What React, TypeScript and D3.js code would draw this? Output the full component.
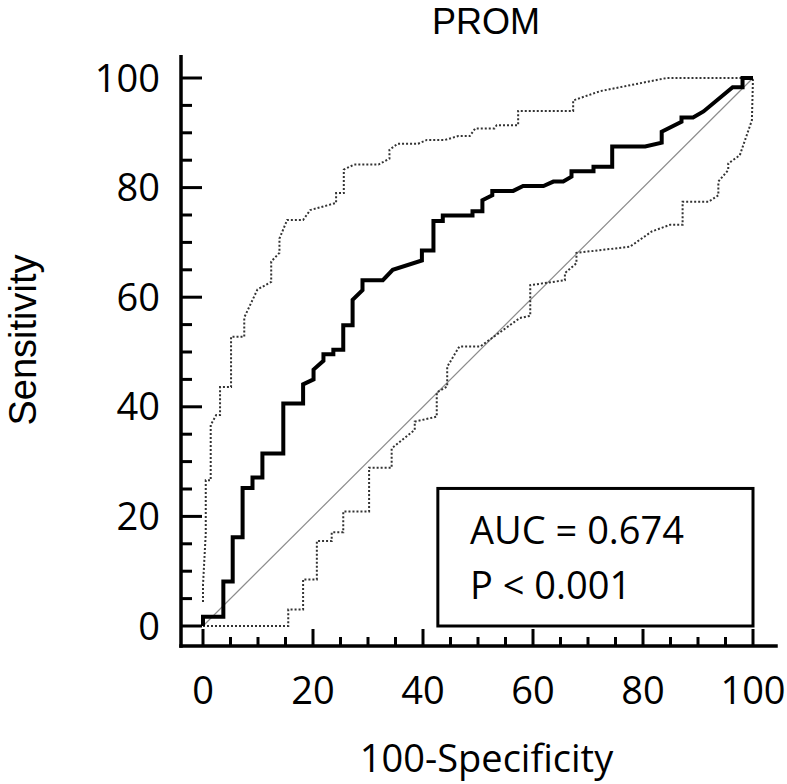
import React from "react";
import * as d3 from "d3";

// ROC curve vertices (100-Specificity, Sensitivity)
const rocX = [0, 0, 3.7, 3.7, 5.4, 5.4, 7.2, 7.2, 9.0, 9.0, 10.8, 10.8, 14.6, 14.6, 18.2, 18.2, 20.1, 20.1, 21.9, 21.9, 23.7, 23.7, 25.5, 25.5, 27.2, 27.2, 29.0, 29.0, 32.7, 34.5, 39.8, 39.8, 41.9, 41.9, 43.6, 43.6, 49.0, 49.0, 50.8, 50.8, 52.6, 52.6, 56.4, 58.2, 61.9, 63.7, 65.5, 67.0, 67.0, 71.0, 71.0, 74.4, 74.4, 80.4, 83.4, 83.4, 87.0, 87.0, 89.1, 91.0, 96.3, 98.1, 98.1, 100];
const rocY = [0, 1.7, 1.7, 8.1, 8.1, 16.2, 16.2, 25.2, 25.2, 27.1, 27.1, 31.5, 31.5, 40.6, 40.6, 44.1, 45.0, 46.8, 48.4, 49.6, 49.6, 50.4, 50.4, 54.9, 54.9, 59.5, 61.3, 63.1, 63.1, 65.0, 66.7, 68.5, 68.5, 73.9, 73.9, 74.9, 74.9, 75.7, 75.7, 77.7, 78.6, 79.4, 79.4, 80.3, 80.3, 81.1, 81.1, 82.0, 83.0, 83.0, 83.8, 83.8, 87.5, 87.5, 88.2, 90.2, 92.0, 92.8, 92.8, 93.9, 98.3, 98.3, 100, 100];

// Upper 95% confidence bound
const upperX = [0, 0, 0.5, 0.5, 1.4, 1.4, 2.4, 3.1, 3.1, 5.1, 5.1, 7.5, 7.5, 9.9, 12.4, 12.4, 13.9, 13.9, 15.3, 18.2, 19.5, 24.2, 24.2, 25.6, 25.6, 27.5, 31.9, 33.9, 33.9, 35.4, 39.1, 40.7, 44.0, 46.4, 48.5, 49.5, 53.0, 53.4, 57.3, 57.3, 67.3, 67.3, 72.2, 84.3, 100];
const upperY = [4.4, 7.5, 16.9, 26.6, 26.6, 36.7, 38.5, 38.5, 43.6, 43.6, 52.8, 52.8, 56.3, 61.4, 62.8, 66.5, 68.1, 70.7, 74.1, 74.1, 75.9, 77.2, 79.0, 79.0, 83.3, 84.2, 84.2, 85.3, 86.9, 88.0, 88.0, 88.7, 88.7, 89.4, 89.4, 90.8, 90.8, 91.4, 91.4, 94.0, 94.0, 95.9, 97.6, 100, 100];

// Lower 95% confidence bound
const lowerX = [0, 15.5, 15.5, 18.2, 18.2, 20.7, 20.7, 23.4, 23.4, 25.5, 25.5, 30.2, 30.2, 34.3, 34.3, 38.5, 38.5, 42.5, 42.5, 44.4, 44.4, 46.6, 50.4, 57.6, 59.5, 59.5, 65.8, 65.8, 67.9, 67.9, 77.6, 81.6, 84.9, 87.2, 87.2, 91.9, 93.7, 93.7, 95.5, 95.5, 97.6, 99.8, 100];
const lowerY = [0, 0, 3.0, 3.0, 8.5, 8.5, 15.5, 15.5, 17.1, 17.1, 20.9, 20.9, 28.9, 28.9, 32.4, 35.8, 37.3, 38.2, 42.6, 43.7, 47.3, 51.0, 51.0, 56.2, 56.6, 62.2, 63.1, 64.4, 66.2, 68.1, 69.2, 72.0, 73.2, 73.2, 77.4, 77.4, 78.6, 81.1, 83.2, 84.4, 85.9, 92.3, 100];

const tickValues = [0, 20, 40, 60, 80, 100];
const title = "PROM";
const xLabel = "100-Specificity";
const yLabel = "Sensitivity";
const aucText = "AUC = 0.674";
const pText = "P < 0.001";

const FONT = "'Open Sans', 'Noto Sans', sans-serif";
const EDGE_FONT = "'Liberation Sans', Arial, sans-serif";

export default function App() {
  const x = d3.scaleLinear().domain([0, 100]).range([203, 753]);
  const y = d3.scaleLinear().domain([0, 100]).range([626, 78]);
  const minor = d3.range(0, 101, 5);

  const line = d3
    .line<[number, number]>()
    .x((d) => x(d[0]))
    .y((d) => y(d[1]));

  const zip = (a: number[], b: number[]) => a.map((v, i) => [v, b[i]] as [number, number]);

  const axisLeftX = x(-4);
  const axisBottomY = y(-3.65);

  return (
    <svg
      width={787}
      height={784}
      style={{ position: "absolute", left: 0, top: 0, background: "#fff" }}
      fontFamily={FONT}
    >
      <rect x={0} y={0} width={787} height={784} fill="#fff" />
      {/* diagonal */}
      <path d={line([[0, 0], [100, 100]])!} stroke="#8c8c8c" strokeWidth={1.2} fill="none" />
      {/* CI bounds */}
      <path d={line(zip(upperX, upperY))!} stroke="#333" strokeWidth={2} strokeDasharray="2 2" fill="none" />
      <path d={line(zip(lowerX, lowerY))!} stroke="#333" strokeWidth={2} strokeDasharray="2 2" fill="none" />
      {/* ROC */}
      <path d={line(zip(rocX, rocY))!} stroke="#000" strokeWidth={4} fill="none" strokeLinejoin="miter" />

      {/* axes */}
      <line x1={axisLeftX} x2={axisLeftX} y1={y(104.2)} y2={axisBottomY + 1.75} stroke="#000" strokeWidth={3.5} />
      <line x1={axisLeftX - 1.75} x2={x(104.5)} y1={axisBottomY} y2={axisBottomY} stroke="#000" strokeWidth={3.5} />
      {minor.map((v) => {
        const major = v % 20 === 0;
        return (
          <g key={"t" + v}>
            <line x1={axisLeftX} x2={axisLeftX + (major ? 21 : 11)} y1={y(v)} y2={y(v)} stroke="#000" strokeWidth={3} />
            <line x1={x(v)} x2={x(v)} y1={axisBottomY} y2={axisBottomY - (major ? 17 : 9)} stroke="#000" strokeWidth={3} />
          </g>
        );
      })}
      {tickValues.map((v) => (
        <g key={"l" + v}>
          <text x={160} y={y(v) + 13.5} textAnchor="end" fontSize={38} fill="#000">
            {v}
          </text>
          <text x={x(v)} y={703.5} textAnchor="middle" fontSize={38} fill="#000">
            {v}
          </text>
        </g>
      ))}

      {/* legend box */}
      <rect x={x(42.7)} y={y(25.1)} width={x(100) - x(42.7)} height={y(0) - y(25.1)} fill="none" stroke="#000" strokeWidth={3} />
      <text x={470} y={544} fontSize={38} fill="#000">{aucText}</text>
      <text x={470} y={598.5} fontSize={38} fill="#000">{pText}</text>

      {/* titles */}
      <text x={486} y={33.5} textAnchor="middle" fontSize={36} fill="#000" fontFamily={EDGE_FONT}>{title}</text>
      <text x={486.5} y={772} textAnchor="middle" fontSize={38} fill="#000">{xLabel}</text>
      <text transform="translate(35.5,340) rotate(-90)" textAnchor="middle" fontSize={38} fill="#000" fontFamily={EDGE_FONT}>{yLabel}</text>
    </svg>
  );
}
